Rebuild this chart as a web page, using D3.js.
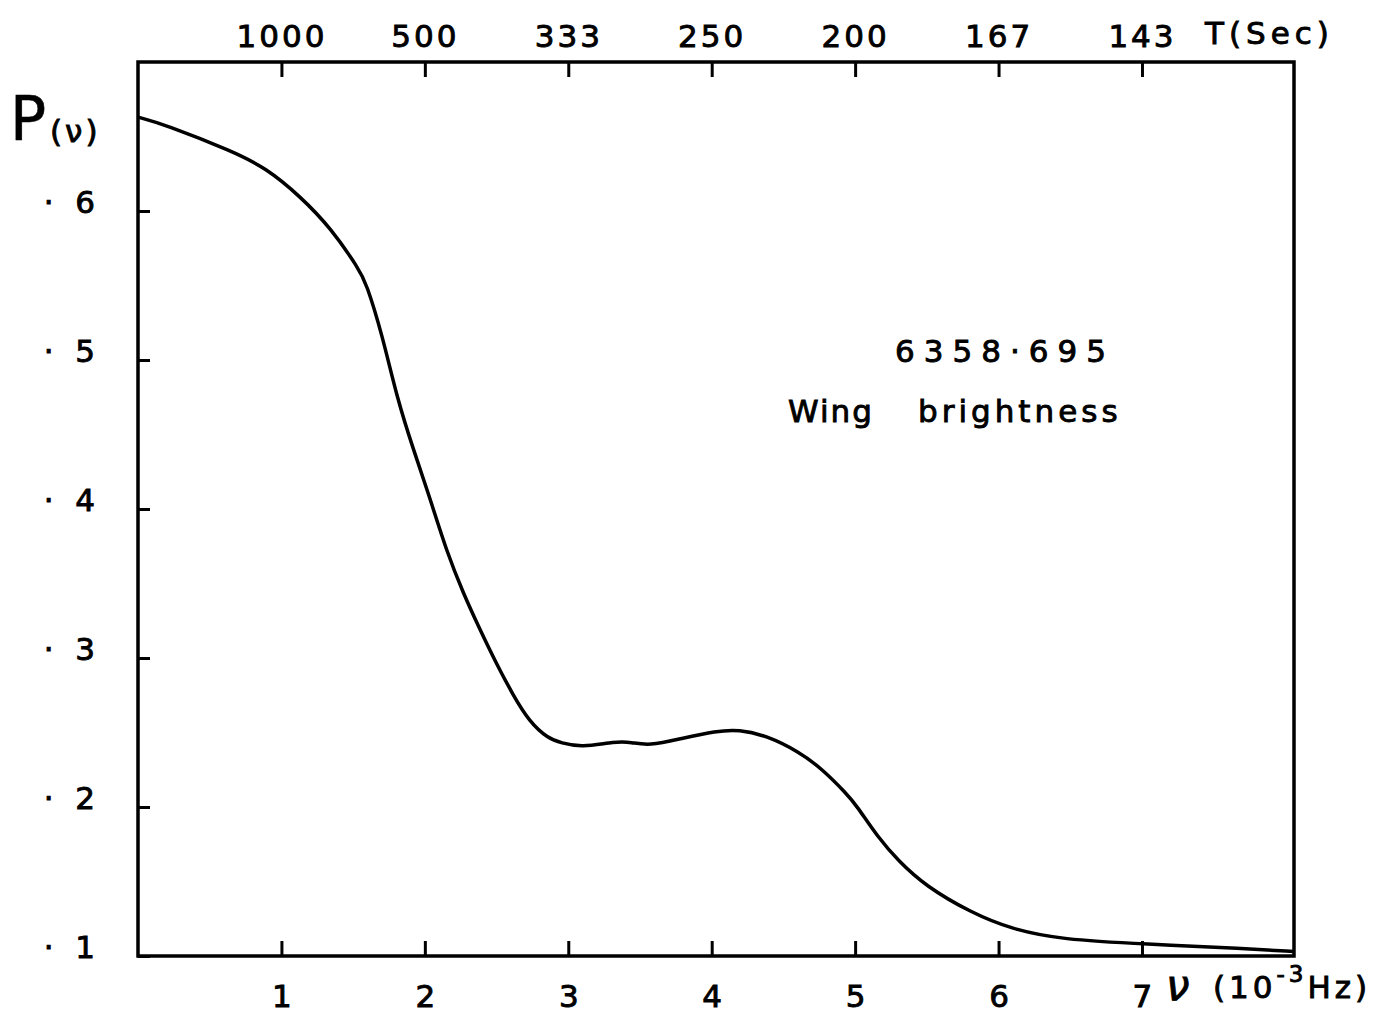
<!DOCTYPE html>
<html>
<head>
<meta charset="utf-8">
<script src="https://cdn.jsdelivr.net/npm/d3@7"></script>
<style>
  html, body { margin: 0; padding: 0; background: #fff; }
  svg { display: block; }
  text { font-family: "DejaVu Sans", sans-serif; fill: #000; stroke: #000; stroke-width: 0.9px; }
</style>
</head>
<body>
<svg id="chart" width="1394" height="1014"></svg>
<script>
// Frequency (10^-3 Hz)
const nu = [0, 0.19, 0.66, 0.89, 1.13, 1.35, 1.54, 1.59, 1.70, 1.81, 1.92, 2.04, 2.15, 2.27, 2.38, 2.50, 2.61, 2.73, 2.86, 2.95, 3.09, 3.33, 3.44, 3.56, 3.79, 4.03, 4.19, 4.38, 4.61, 4.77, 4.94, 5.01, 5.16, 5.30, 5.49, 5.81, 6.09, 6.44, 7.02, 7.72, 8.06];
// Power P(nu)
const power = [0.663, 0.658, 0.640, 0.629, 0.610, 0.588, 0.561, 0.552, 0.518, 0.473, 0.440, 0.406, 0.372, 0.343, 0.320, 0.296, 0.276, 0.257, 0.246, 0.243, 0.240, 0.244, 0.2435, 0.241, 0.246, 0.251, 0.252, 0.248, 0.237, 0.2255, 0.209, 0.201, 0.1795, 0.164, 0.147, 0.129, 0.118, 0.111, 0.108, 0.105, 0.103];
// Axis ticks
const freqTicks = [1, 2, 3, 4, 5, 6, 7];
const periodLabels = ["1000", "500", "333", "250", "200", "167", "143"];
const powerTicks = [0.1, 0.2, 0.3, 0.4, 0.5, 0.6];
const powerTickLabels = ["1", "2", "3", "4", "5", "6"];

const svg = d3.select("#chart");
const x = d3.scaleLinear().domain([0, 8.06]).range([138, 1294]);
const y = d3.scaleLinear().domain([0.1, 0.7]).range([956, 62]);

const fs = 31;

// Bottom axis
const gB = svg.append("g").attr("transform", `translate(0,${y(0.1)})`)
  .call(d3.axisBottom(x).tickValues(freqTicks).tickSize(-15).tickPadding(29).tickFormat(d3.format("d")));
// Top axis
const gT = svg.append("g").attr("transform", `translate(0,${y(0.7)})`)
  .call(d3.axisTop(x).tickValues(freqTicks).tickSize(-15).tickPadding(15)
    .tickFormat((d, i) => periodLabels[i]));
// Left axis
const gL = svg.append("g").attr("transform", `translate(${x(0)},0)`)
  .call(d3.axisLeft(y).tickValues(powerTicks).tickSize(-12).tickPadding(43)
    .tickFormat((d, i) => "·\u2002\u2009" + powerTickLabels[i]));

[gB, gT, gL].forEach(g => {
  g.select(".domain").remove();
  g.selectAll(".tick line").attr("stroke", "#000").attr("stroke-width", 3);
  g.selectAll(".tick text").attr("font-size", fs).attr("font-family", "DejaVu Sans").attr("fill", "#000");
});
gT.selectAll(".tick text").attr("letter-spacing", 3);
gL.selectAll(".tick text").attr("dy", "0.05em");

// Frame
svg.append("rect")
  .attr("x", x(0)).attr("y", y(0.7))
  .attr("width", x(8.06) - x(0)).attr("height", y(0.1) - y(0.7))
  .attr("fill", "none").attr("stroke", "#000").attr("stroke-width", 3.5);

// Curve
const data = nu.map((v, i) => [v, power[i]]);
svg.append("path")
  .datum(data)
  .attr("fill", "none").attr("stroke", "#000").attr("stroke-width", 3.5)
  .attr("stroke-linejoin", "round")
  .attr("d", d3.line().x(d => x(d[0])).y(d => y(d[1])).curve(d3.curveBasis));

// Y axis label P(nu)
svg.append("text").attr("x", 10).attr("y", 140).attr("font-size", 60).style("stroke-width", "0.5px").text("P");
svg.append("text").attr("x", 50).attr("y", 142).attr("font-size", 31).attr("letter-spacing", 3).text("(ν)");

// Top axis title
svg.append("text").attr("x", 1205).attr("y", 44).attr("font-size", fs).attr("letter-spacing", 5).text("T(Sec)");

// Bottom axis title
svg.append("text").attr("x", 1166).attr("y", 1000).attr("font-size", 42).attr("font-style", "italic").text("ν");
svg.append("text").attr("x", 1213).attr("y", 998).attr("font-size", fs).attr("letter-spacing", 4)
  .call(t => {
    t.append("tspan").text("(10");
    t.append("tspan").attr("font-size", 23).attr("dy", -16).text("-3");
    t.append("tspan").attr("dy", 16).text("Hz)");
  });

// Annotations
svg.append("text").attr("x", 895).attr("y", 362).attr("font-size", fs).attr("letter-spacing", 9).text("6358·695");
svg.append("text").attr("x", 788).attr("y", 422).attr("font-size", fs).attr("letter-spacing", 2).text("Wing");
svg.append("text").attr("x", 918).attr("y", 422).attr("font-size", fs).attr("letter-spacing", 4).text("brightness");
</script>
</body>
</html>
